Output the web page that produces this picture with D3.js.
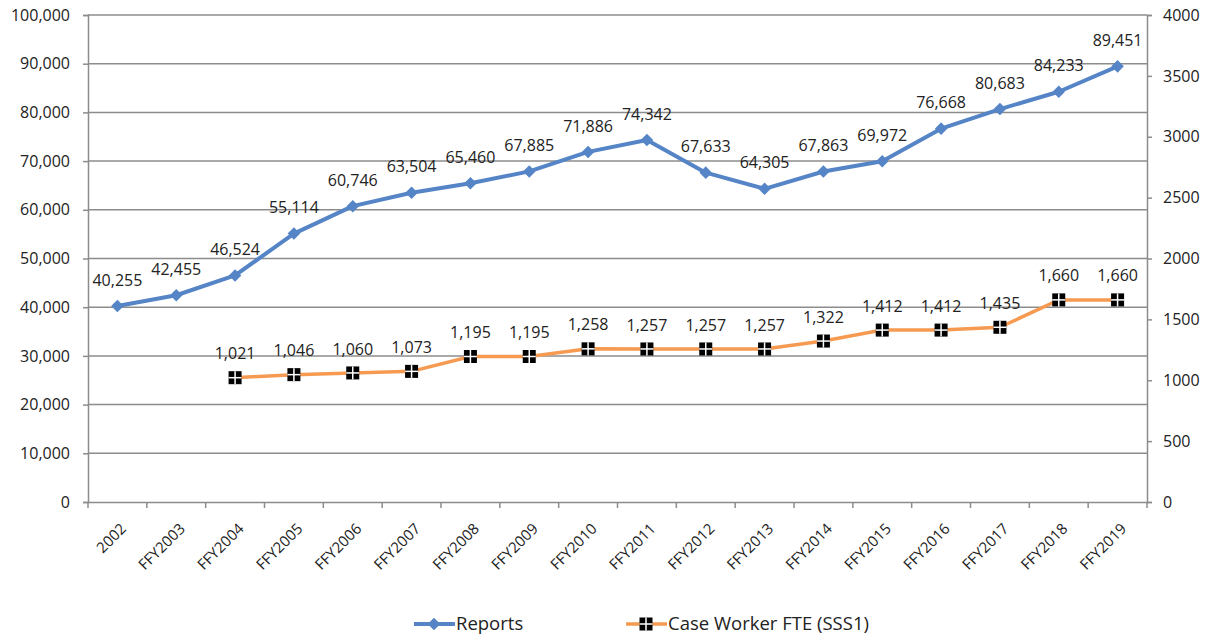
<!DOCTYPE html>
<html>
<head>
<meta charset="utf-8">
<script src="https://cdn.jsdelivr.net/npm/d3@7"></script>
<style>
  body { margin: 0; background: #fff; }
  svg text { font-family: "Open Sans", "Liberation Sans", sans-serif; fill: #222; }
</style>
</head>
<body>
<svg width="1211" height="638"></svg>
<script>
const years = ["2002", "FFY2003", "FFY2004", "FFY2005", "FFY2006", "FFY2007", "FFY2008", "FFY2009",
  "FFY2010", "FFY2011", "FFY2012", "FFY2013", "FFY2014", "FFY2015", "FFY2016", "FFY2017", "FFY2018", "FFY2019"];
const reports = [40255, 42455, 46524, 55114, 60746, 63504, 65460, 67885, 71886, 74342,
  67633, 64305, 67863, 69972, 76668, 80683, 84233, 89451];
const fteYears = years.slice(2);
const fte = [1021, 1046, 1060, 1073, 1195, 1195, 1258, 1257, 1257, 1257, 1322, 1412, 1412, 1435, 1660, 1660];
const leftTicks = [0, 10000, 20000, 30000, 40000, 50000, 60000, 70000, 80000, 90000, 100000];
const rightTicks = [0, 500, 1000, 1500, 2000, 2500, 3000, 3500, 4000];

const blue = "#5585c6", orange = "#f59a50", grid = "#8c8c8c";
const svg = d3.select("svg"),
  mLeft = 88, mRight = 1147, mTop = 15, mBottom = 502;

const x = d3.scaleBand().domain(years).range([mLeft, mRight]);
const cx = d => x(d) + x.bandwidth() / 2;
const y = d3.scaleLinear().domain([0, 100000]).range([mBottom, mTop]);
const y2 = d3.scaleLinear().domain([0, 4000]).range([mBottom, mTop]);

// gridlines
svg.append("g").selectAll("line").data(leftTicks.slice(1)).join("line")
  .attr("x1", mLeft).attr("x2", mRight)
  .attr("y1", d => y(d)).attr("y2", d => y(d))
  .attr("stroke", grid).attr("stroke-width", 1.5);

// left axis
const gl = svg.append("g").attr("transform", `translate(${mLeft},0)`)
  .call(d3.axisLeft(y).tickValues(leftTicks).tickFormat(d3.format(",")).tickSize(5).tickPadding(13));
// right axis
const gr = svg.append("g").attr("transform", `translate(${mRight},0)`)
  .call(d3.axisRight(y2).tickValues(rightTicks).tickFormat(d => d).tickSize(5).tickPadding(11));
// bottom axis
const gb = svg.append("g").attr("transform", `translate(0,${mBottom})`)
  .call(d3.axisBottom(x).tickSize(0).tickFormat(""));
gb.selectAll(".bt").data(d3.range(years.length + 1)).join("line")
  .attr("x1", i => mLeft + i * x.step()).attr("x2", i => mLeft + i * x.step())
  .attr("y1", 0).attr("y2", 6).attr("stroke", grid).attr("stroke-width", 1.5);
gb.selectAll(".xl").data(years).join("text")
  .attr("transform", d => `translate(${cx(d) + 6},${24}) rotate(-45)`)
  .attr("text-anchor", "end").attr("dy", "0.35em")
  .style("font-size", "15px").text(d => d);

[gl, gr, gb].forEach(g => {
  g.selectAll(".domain").attr("stroke", grid).attr("stroke-width", 1.5);
  g.selectAll(".tick line").attr("stroke", grid).attr("stroke-width", 1.5);
  g.selectAll(".tick text").style("font-size", "16px").attr("fill", "#222");
});

// Reports line
svg.append("path").datum(reports)
  .attr("fill", "none").attr("stroke", blue).attr("stroke-width", 4)
  .attr("stroke-linejoin", "round")
  .attr("d", d3.line().x((d, i) => cx(years[i])).y(d => y(d)));
svg.append("g").selectAll("path").data(reports).join("path")
  .attr("d", d3.symbol(d3.symbolDiamond2, 100))
  .attr("transform", (d, i) => `translate(${cx(years[i])},${y(d)})`)
  .attr("fill", blue);
svg.append("g").selectAll("text").data(reports).join("text")
  .attr("x", (d, i) => cx(years[i])).attr("y", d => y(d) - 26)
  .attr("text-anchor", "middle").attr("dy", "0.35em")
  .style("font-size", "16px").text(d => d3.format(",")(d));

// FTE line
svg.append("path").datum(fte)
  .attr("fill", "none").attr("stroke", orange).attr("stroke-width", 3.5)
  .attr("d", d3.line().x((d, i) => cx(fteYears[i])).y(d => y2(d)));

function squareMarker(g) {
  g.append("rect").attr("x", -6.5).attr("y", -6.5).attr("width", 13).attr("height", 13).attr("fill", "#000");
  g.append("line").attr("x1", 0).attr("x2", 0).attr("y1", -6.5).attr("y2", 6.5).attr("stroke", "#fff").attr("stroke-width", 1.5);
  g.append("line").attr("x1", -6.5).attr("x2", 6.5).attr("y1", 0).attr("y2", 0).attr("stroke", "#fff").attr("stroke-width", 1.5);
}
svg.append("g").selectAll("g").data(fte).join("g")
  .attr("transform", (d, i) => `translate(${cx(fteYears[i])},${y2(d)})`)
  .each(function () { squareMarker(d3.select(this)); });
svg.append("g").selectAll("text").data(fte).join("text")
  .attr("x", (d, i) => cx(fteYears[i])).attr("y", d => y2(d) - 24)
  .attr("text-anchor", "middle").attr("dy", "0.35em")
  .style("font-size", "16px").text(d => d3.format(",")(d));

// legend
const lg = svg.append("g").attr("transform", "translate(0,624)");
lg.append("line").attr("x1", 414).attr("x2", 455).attr("stroke", blue).attr("stroke-width", 4);
lg.append("path").attr("d", d3.symbol(d3.symbolDiamond2, 100)).attr("transform", "translate(434,0)").attr("fill", blue);
lg.append("text").attr("x", 456).attr("dy", "0.35em").style("font-size", "18.5px").text("Reports");
lg.append("line").attr("x1", 626).attr("x2", 667).attr("stroke", orange).attr("stroke-width", 3.5);
squareMarker(lg.append("g").attr("transform", "translate(646,0)"));
lg.append("text").attr("x", 668).attr("dy", "0.35em").style("font-size", "18.5px").text("Case Worker FTE (SSS1)");
</script>
</body>
</html>
